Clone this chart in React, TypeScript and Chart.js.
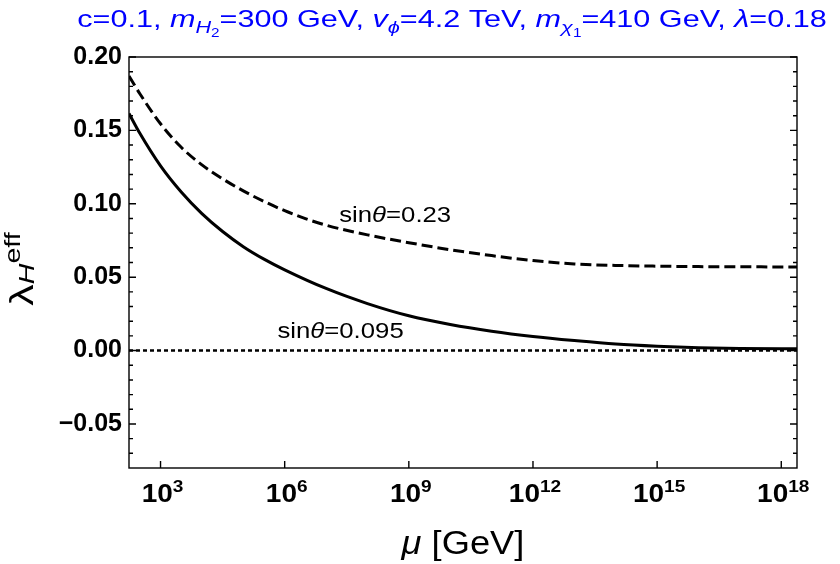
import { useEffect, useRef } from 'react';
import { Chart, registerables } from 'chart.js';
import type { Plugin } from 'chart.js';

Chart.register(...registerables);

const FONT = '"Liberation Sans", Arial, Helvetica, sans-serif';

// log10(mu / GeV) and lambda_H^eff
const dashedExp = [2.238, 2.5, 3, 3.5, 4, 4.5, 5, 5.5, 6, 6.5, 7, 8, 9, 10, 11, 12, 13, 14, 15, 16, 17, 18, 18.38];
const dashedLambda = [0.187, 0.175, 0.1545, 0.1385, 0.1265, 0.117, 0.1088, 0.1016, 0.0953, 0.0899, 0.0854, 0.0788, 0.0735, 0.0687, 0.0647, 0.0613, 0.059, 0.058, 0.0575, 0.0572, 0.0571, 0.057, 0.057];

const solidExp = [2.238, 2.5, 3, 3.5, 4, 4.5, 5, 5.5, 6, 7, 8, 9, 10, 11, 12, 13, 14, 15, 16, 17, 18, 18.38];
const solidLambda = [0.1615, 0.148, 0.1258, 0.108, 0.0933, 0.0811, 0.0708, 0.0623, 0.055, 0.0423, 0.032, 0.0237, 0.0178, 0.0132, 0.0096, 0.0068, 0.0044, 0.0029, 0.0019, 0.0014, 0.0012, 0.0012];

const zeroExp = [2.238, 18.38];
const zeroLambda = [0, 0];

const xMinExp = 2.238;
const xMaxExp = 18.38;
const xTickExps = [3, 6, 9, 12, 15, 18];
const yTicks = [-0.05, 0, 0.05, 0.1, 0.15, 0.2];
const yMinorTicks = [-0.07, -0.06, -0.04, -0.03, -0.02, -0.01, 0.01, 0.02, 0.03, 0.04, 0.06, 0.07, 0.08, 0.09, 0.11, 0.12, 0.13, 0.14, 0.16, 0.17, 0.18, 0.19];

const curveLabels = ['0.23', '0.095'];
const curveLabelExp = [8.67, 7.35];
const curveLabelY = [0.0879, 0.0087];

type Part = { t: string; size: number; weight?: string; style?: string; dy?: number };

function partFont(p: Part) {
  return `${p.style ?? 'normal'} ${p.weight ?? 'normal'} ${p.size}px ${FONT}`;
}

function drawRich(ctx: CanvasRenderingContext2D, parts: Part[], x: number, y: number, sx = 1) {
  ctx.save();
  ctx.translate(x, y);
  ctx.scale(sx, 1);
  ctx.textBaseline = 'alphabetic';
  ctx.textAlign = 'left';
  let w = 0;
  for (const p of parts) {
    ctx.font = partFont(p);
    w += ctx.measureText(p.t).width;
  }
  let cx = -w / 2;
  for (const p of parts) {
    ctx.font = partFont(p);
    ctx.fillText(p.t, cx, p.dy ?? 0);
    cx += ctx.measureText(p.t).width;
  }
  ctx.restore();
}

const decorations: Plugin<'line'> = {
  id: 'decorations',
  afterDraw(chart) {
    const { ctx, chartArea: a } = chart;
    const xs = chart.scales.x;
    const ys = chart.scales.y;
    ctx.save();
    ctx.strokeStyle = '#000';
    ctx.fillStyle = '#000';
    ctx.lineWidth = 1.4;
    ctx.strokeRect(a.left, a.top, a.right - a.left, a.bottom - a.top);

    ctx.beginPath();
    for (const v of yTicks) {
      const py = ys.getPixelForValue(v);
      ctx.moveTo(a.left, py);
      ctx.lineTo(a.left + 7, py);
      ctx.moveTo(a.right, py);
      ctx.lineTo(a.right - 7, py);
    }
    for (const v of yMinorTicks) {
      const py = ys.getPixelForValue(v);
      ctx.moveTo(a.left, py);
      ctx.lineTo(a.left + 4, py);
      ctx.moveTo(a.right, py);
      ctx.lineTo(a.right - 4, py);
    }
    for (const e of xTickExps) {
      const px = xs.getPixelForValue(10 ** e);
      ctx.moveTo(px, a.bottom);
      ctx.lineTo(px, a.bottom - 7);
    }
    ctx.stroke();

    // x tick labels 10^n
    for (const e of xTickExps) {
      const px = xs.getPixelForValue(10 ** e);
      drawRich(ctx, [
        { t: '10', size: 25, weight: 'bold' },
        { t: String(e), size: 17, weight: 'bold', dy: -10 },
      ], px + 2, a.bottom + 34, 1.12);
    }

    // x axis title
    drawRich(ctx, [
      { t: 'μ', size: 33, style: 'italic' },
      { t: ' [GeV]', size: 33 },
    ], (a.left + a.right) / 2, 554, 1.1);

    // y axis title
    ctx.save();
    ctx.translate(33, 269);
    ctx.rotate(-Math.PI / 2);
    drawRich(ctx, [
      { t: 'λ', size: 33 },
      { t: 'H', size: 22, style: 'italic', dy: 1 },
      { t: 'eff', size: 22, dy: -13 },
    ], 0, 0, 1.3);
    ctx.restore();

    // curve labels
    curveLabels.forEach((lab, i) => {
      drawRich(ctx, [
        { t: 'sin', size: 22 },
        { t: 'θ', size: 22, style: 'italic' },
        { t: '=' + lab, size: 22 },
      ], xs.getPixelForValue(10 ** curveLabelExp[i]), ys.getPixelForValue(curveLabelY[i]), 1.17);
    });

    // title
    ctx.fillStyle = '#0000ff';
    drawRich(ctx, [
      { t: 'c=0.1, ', size: 24 },
      { t: 'm', size: 24, style: 'italic' },
      { t: 'H', size: 17, style: 'italic', dy: 6 },
      { t: '2', size: 12, dy: 10 },
      { t: '=300 GeV, ', size: 24 },
      { t: 'v', size: 24, style: 'italic' },
      { t: 'ϕ', size: 17, style: 'italic', dy: 6 },
      { t: '=4.2 TeV, ', size: 24 },
      { t: 'm', size: 24, style: 'italic' },
      { t: 'χ', size: 17, style: 'italic', dy: 6 },
      { t: '1', size: 12, dy: 10 },
      { t: '=410 GeV, ', size: 24 },
      { t: 'λ', size: 24, style: 'italic' },
      { t: '=0.18', size: 24 },
    ], 452, 27, 1.275);
    ctx.restore();
  },
};

export default function App() {
  const canvasRef = useRef<HTMLCanvasElement | null>(null);

  useEffect(() => {
    if (!canvasRef.current) {
      return;
    }
    const toPoints = (ex: number[], ys: number[]) => ex.map((e, i) => ({ x: 10 ** e, y: ys[i] }));

    const chart = new Chart(canvasRef.current, {
      type: 'line',
      data: {
        datasets: [
          {
            label: 'sinθ=0.23',
            data: toPoints(dashedExp, dashedLambda),
            borderColor: '#000',
            borderWidth: 3,
            borderDash: [11, 5],
            pointRadius: 0,
            cubicInterpolationMode: 'monotone',
          },
          {
            label: 'sinθ=0.095',
            data: toPoints(solidExp, solidLambda),
            borderColor: '#000',
            borderWidth: 3,
            pointRadius: 0,
            cubicInterpolationMode: 'monotone',
          },
          {
            label: 'zero',
            data: toPoints(zeroExp, zeroLambda),
            borderColor: '#000',
            borderWidth: 2.6,
            borderDash: [4, 3],
            pointRadius: 0,
          },
        ],
      },
      options: {
        responsive: false,
        animation: false,
        layout: { padding: { top: 57, right: 43, left: 0, bottom: 0 } },
        plugins: { legend: { display: false }, tooltip: { enabled: false } },
        scales: {
          x: {
            type: 'logarithmic',
            min: 10 ** xMinExp,
            max: 10 ** xMaxExp,
            grid: { display: false, drawTicks: false },
            border: { display: false },
            ticks: { display: false },
            afterFit: (s) => {
              s.height = 96;
            },
          },
          y: {
            type: 'linear',
            min: -0.08,
            max: 0.2,
            grid: { display: false, drawTicks: false },
            border: { display: false },
            afterBuildTicks: (s) => {
              s.ticks = yTicks.map((v) => ({ value: v }));
            },
            ticks: {
              color: '#000',
              padding: 7,
              font: { family: FONT, size: 25, weight: 'bold' },
              callback: (v) => (Number(v) < 0 ? '\u2212' : '') + Math.abs(Number(v)).toFixed(2),
            },
            afterFit: (s) => {
              s.width = 129;
            },
          },
        },
      },
      plugins: [decorations],
    });

    return () => {
      chart.destroy();
    };
  }, []);

  return (
    <div style={{ position: 'absolute', left: 0, top: 0, width: 840, height: 564, background: '#fff' }}>
      <canvas ref={canvasRef} width={840} height={564} />
    </div>
  );
}
